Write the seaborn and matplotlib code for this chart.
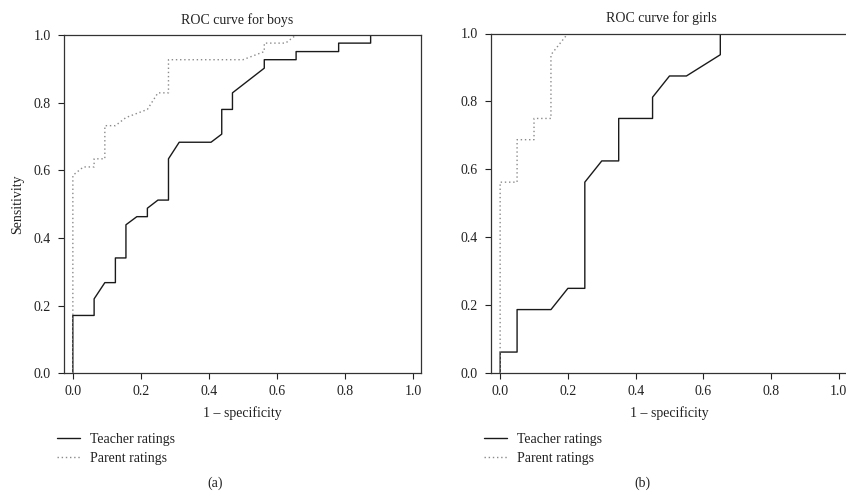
import matplotlib
matplotlib.use("Agg")
import matplotlib.pyplot as plt
import seaborn as sns
import pandas as pd

sns.set_theme(style="white")
plt.rcParams["font.family"] = ["Liberation Serif", "DejaVu Serif"]

# ROC curve for boys
boys_teacher_fpr = [0, 0, 0.0625, 0.0625, 0.094, 0.125, 0.125, 0.156, 0.156, 0.188, 0.219, 0.219,
                    0.25, 0.281, 0.281, 0.3125, 0.406, 0.4375, 0.4375, 0.469, 0.469, 0.5625, 0.5625,
                    0.656, 0.656, 0.781, 0.781, 0.875, 0.875, 1.0]
boys_teacher_tpr = [0, 0.171, 0.171, 0.220, 0.268, 0.268, 0.341, 0.341, 0.439, 0.463, 0.463, 0.488,
                    0.512, 0.512, 0.634, 0.683, 0.683, 0.707, 0.780, 0.780, 0.829, 0.902, 0.927,
                    0.927, 0.951, 0.951, 0.976, 0.976, 1.0, 1.0]
boys_parent_fpr = [0, 0, 0.031, 0.0625, 0.0625, 0.094, 0.094, 0.125, 0.156, 0.219, 0.25, 0.281,
                   0.281, 0.5, 0.5625, 0.5625, 0.625, 0.656, 1.0]
boys_parent_tpr = [0, 0.585, 0.610, 0.610, 0.634, 0.634, 0.732, 0.732, 0.756, 0.780, 0.829, 0.829,
                   0.927, 0.927, 0.951, 0.976, 0.976, 1.0, 1.0]

# ROC curve for girls
girls_teacher_fpr = [0, 0, 0.05, 0.05, 0.15, 0.20, 0.25, 0.25, 0.30, 0.35, 0.35, 0.45, 0.45, 0.50,
                     0.55, 0.65, 0.65, 1.0]
girls_teacher_tpr = [0, 0.0625, 0.0625, 0.1875, 0.1875, 0.25, 0.25, 0.5625, 0.625, 0.625, 0.75, 0.75,
                     0.8125, 0.875, 0.875, 0.9375, 1.0, 1.0]
girls_parent_fpr = [0, 0, 0.05, 0.05, 0.10, 0.10, 0.15, 0.15, 0.20, 1.0]
girls_parent_tpr = [0, 0.5625, 0.5625, 0.6875, 0.6875, 0.75, 0.75, 0.9375, 1.0, 1.0]

series_labels = ["Teacher ratings", "Parent ratings"]
panel_titles = ["ROC curve for boys", "ROC curve for girls"]
panel_tags = ["(a)", "(b)"]
ticks = [0.0, 0.2, 0.4, 0.6, 0.8, 1.0]

FS = 10
fig = plt.figure(figsize=(8.46, 4.92), dpi=100)
W, H = 846, 492

def px_axes(l, t, r, b):
    return fig.add_axes([l / W, 1 - b / H, (r - l) / W, (b - t) / H])

ax1 = px_axes(64, 35, 421, 373.3)
ax2 = px_axes(491, 33.5, 848, 373.3)

panels = [
    (ax1, boys_teacher_fpr, boys_teacher_tpr, boys_parent_fpr, boys_parent_tpr, (-0.026, 1.023), 0.485),
    (ax2, girls_teacher_fpr, girls_teacher_tpr, girls_parent_fpr, girls_parent_tpr, (-0.027, 1.027), 0.476),
]

for i, (ax, tf, tt, pf, pt, xl, tx) in enumerate(panels):
    sns.lineplot(x=tf, y=tt, ax=ax, sort=False, estimator=None, color="#1a1a1a",
                 linewidth=1.0, label=series_labels[0])
    sns.lineplot(x=pf, y=pt, ax=ax, sort=False, estimator=None, color="#8a8a8a",
                 linewidth=1.0, linestyle=(0, (1, 2)), label=series_labels[1])
    ax.set_xlim(*xl)
    ax.set_ylim(0, 1)
    ax.set_xticks(ticks)
    ax.set_yticks(ticks)
    ax.set_xticklabels([f"{t:.1f}" for t in ticks])
    ax.set_yticklabels([f"{t:.1f}" for t in ticks])
    ax.tick_params(axis="both", direction="out", length=4.5, width=0.8, colors="#222222",
                   labelsize=FS, labelcolor="#222222")
    ax.tick_params(axis="x", pad=4, bottom=True, left=False)
    ax.tick_params(axis="y", pad=5, left=True)
    for s in ax.spines.values():
        s.set_color("#333333")
        s.set_linewidth(0.9)
    ax.set_xlabel("1 \u2013 specificity", fontsize=FS, color="#222222", labelpad=6)
    ax.set_title(panel_titles[i], fontsize=FS, color="#222222", x=tx, pad=8)
    ax.legend(loc="upper left", bbox_to_anchor=(-0.02, -0.176), frameon=False, fontsize=FS,
              handlelength=1.7, handletextpad=0.7, labelspacing=0.45, borderpad=0,
              borderaxespad=0, labelcolor="#222222")
    ax.text(0.423, -0.325, panel_tags[i], transform=ax.transAxes,
            ha="center", va="center", fontsize=FS, color="#222222")

ax1.set_ylabel("Sensitivity", fontsize=FS, color="#222222", labelpad=7)
ax2.set_ylabel("")

fig.savefig("out.png", dpi=100)
